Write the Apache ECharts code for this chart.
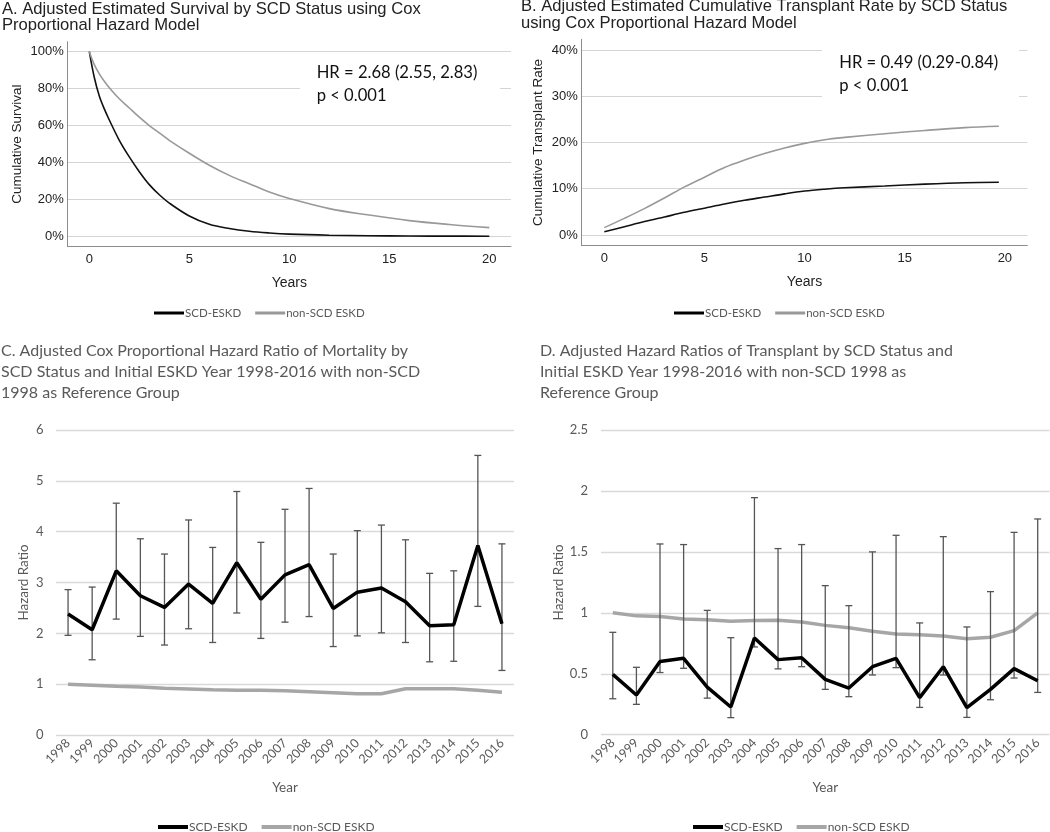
<!DOCTYPE html>
<html><head><meta charset="utf-8">
<script src="https://cdn.jsdelivr.net/npm/echarts@6/dist/echarts.min.js"></script>
<style>html,body{margin:0;padding:0;background:#fff}#c{width:1050px;height:832px}</style>
</head><body><div id="c"></div>
<script>
// ---------- Panel A: adjusted estimated survival (%) ----------
const survTimes = [0, 0.25, 0.5, 0.75, 1, 1.5, 2, 2.5, 3, 3.5, 4, 5, 6, 7, 8, 9, 10, 12, 14, 16, 18, 20];
const survSCD   = [100, 86, 76, 69, 63, 52, 43, 35, 28, 22.5, 18, 11, 6.5, 4.2, 2.7, 1.8, 1.2, 0.6, 0.3, 0.15, 0.1, 0.05];
const survNon   = [100, 93, 88, 84, 80.5, 74.5, 69.5, 64.5, 60, 56, 52, 45, 38.5, 33, 28.5, 24, 20.5, 15, 11.5, 8.5, 6.4, 4.7];

// ---------- Panel B: cumulative transplant rate (%) ----------
const txTimes = [0, 1, 2, 3, 4, 5, 6, 7, 8, 9, 10, 11, 12, 14, 16, 18, 19.7];
const txSCD   = [0.7, 1.8, 2.9, 3.9, 4.9, 5.8, 6.7, 7.5, 8.2, 8.9, 9.5, 9.9, 10.2, 10.6, 11.0, 11.3, 11.4];
const txNon   = [1.6, 3.6, 5.7, 8.0, 10.4, 12.5, 14.6, 16.2, 17.6, 18.8, 19.8, 20.6, 21.1, 21.9, 22.6, 23.2, 23.5];

// ---------- Panels C & D: categories ----------
const years = ['1998','1999','2000','2001','2002','2003','2004','2005','2006','2007','2008','2009','2010','2011','2012','2013','2014','2015','2016'];

// Panel C: mortality hazard ratios
const mortSCD     = [2.38, 2.07, 3.23, 2.74, 2.51, 2.97, 2.59, 3.39, 2.67, 3.15, 3.35, 2.49, 2.81, 2.89, 2.62, 2.15, 2.17, 3.73, 2.19];
const mortSCDLow  = [1.96, 1.48, 2.28, 1.94, 1.77, 2.09, 1.82, 2.40, 1.90, 2.22, 2.33, 1.74, 1.95, 2.01, 1.82, 1.44, 1.45, 2.53, 1.27];
const mortSCDHigh = [2.86, 2.91, 4.56, 3.86, 3.56, 4.23, 3.69, 4.79, 3.79, 4.44, 4.85, 3.56, 4.02, 4.13, 3.84, 3.18, 3.23, 5.50, 3.76];
const mortNon     = [1.00, 0.98, 0.96, 0.945, 0.92, 0.905, 0.89, 0.88, 0.88, 0.87, 0.85, 0.83, 0.81, 0.81, 0.91, 0.91, 0.91, 0.88, 0.84];

// Panel D: transplant hazard ratios
const txhrSCD     = [0.495, 0.326, 0.60, 0.627, 0.39, 0.227, 0.793, 0.616, 0.632, 0.454, 0.383, 0.558, 0.627, 0.304, 0.558, 0.222, 0.372, 0.542, 0.443];
const txhrSCDLow  = [0.295, 0.249, 0.51, 0.545, 0.30, 0.14, 0.72, 0.54, 0.558, 0.372, 0.312, 0.49, 0.55, 0.224, 0.49, 0.142, 0.287, 0.465, 0.347];
const txhrSCDHigh = [0.84, 0.553, 1.565, 1.56, 1.02, 0.796, 1.945, 1.527, 1.56, 1.223, 1.059, 1.50, 1.636, 0.917, 1.625, 0.884, 1.174, 1.66, 1.77];
const txhrNon     = [1.0, 0.975, 0.97, 0.95, 0.944, 0.93, 0.936, 0.94, 0.925, 0.897, 0.878, 0.848, 0.826, 0.82, 0.81, 0.788, 0.80, 0.854, 1.0];

// ---------- chart ----------
const chart = echarts.init(document.getElementById('c'), null, {renderer: 'canvas'});
const ARIAL = 'Liberation Sans, Arial, sans-serif';
const CAL = 'Lato, Calibri, sans-serif';
const GRAYTXT = '#595959';

const pairs = (xs, ys) => xs.map((x, i) => [x, ys[i]]);

function contAxisX(gi, min, max) {
  return {
    type: 'value', gridIndex: gi, min: min, max: max, splitNumber: 5,
    name: 'Years', nameLocation: 'middle', nameGap: 29,
    nameTextStyle: {fontFamily: ARIAL, fontSize: 14, color: '#222'},
    axisLine: {show: true, onZero: false, lineStyle: {color: '#8c8c8c', width: 1}},
    axisTick: {show: false},
    splitLine: {show: false},
    axisLabel: {fontFamily: ARIAL, fontSize: 13, color: '#222', margin: 6,
      showMinLabel: false, showMaxLabel: false,
      formatter: v => (Math.abs(v - Math.round(v)) < 1e-6 && Math.round(v) % 5 === 0) ? String(Math.round(v)) : ''}
  };
}
function contAxisY(gi, min, max, step, name, gap) {
  return {
    type: 'value', gridIndex: gi, min: min, max: max, splitNumber: 5,
    name: name, nameLocation: 'middle', nameGap: gap, nameRotate: 90,
    nameTextStyle: {fontFamily: ARIAL, fontSize: 13.5, color: '#222'},
    axisLine: {show: true, onZero: false, lineStyle: {color: '#8c8c8c', width: 1}},
    axisTick: {show: false},
    splitLine: {show: true, showMinLine: false, showMaxLine: false, lineStyle: {color: '#d4d4d4', width: 1}},
    axisLabel: {fontFamily: ARIAL, fontSize: 13, color: '#222', margin: 4,
      showMinLabel: false, showMaxLabel: false,
      formatter: v => (Math.abs(v - Math.round(v)) < 1e-6 && Math.round(v) >= 0 && Math.round(v) % step === 0) ? Math.round(v) + '%' : ''}
  };
}
function catAxisX(gi) {
  return {
    type: 'category', gridIndex: gi, data: years, boundaryGap: true,
    name: 'Year', nameLocation: 'middle', nameGap: 46,
    nameTextStyle: {fontFamily: CAL, fontSize: 13.5, color: GRAYTXT},
    axisLine: {show: false}, axisTick: {show: false},
    axisLabel: {rotate: 45, fontFamily: CAL, fontSize: 12.5, color: GRAYTXT, margin: 6, interval: 0}
  };
}
function hrAxisY(gi, max, interval, gap, margin) {
  return {
    type: 'value', gridIndex: gi, min: 0, max: max, interval: interval,
    name: 'Hazard Ratio', nameLocation: 'middle', nameGap: gap, nameRotate: 90,
    nameTextStyle: {fontFamily: CAL, fontSize: 13.5, color: GRAYTXT},
    axisLine: {show: false}, axisTick: {show: false},
    splitLine: {show: true, lineStyle: {color: '#d9d9d9', width: 1.3}},
    axisLabel: {fontFamily: CAL, fontSize: 13, color: GRAYTXT, margin: margin}
  };
}
function errorBars(gi, lows, highs) {
  return {
    type: 'custom', name: 'SCD-ESKD 95% CI', xAxisIndex: gi, yAxisIndex: gi, silent: true, z: 2,
    data: lows.map((l, i) => [i, l, highs[i]]),
    encode: {x: 0, y: [1, 2]},
    renderItem: (params, api) => {
      const i = api.value(0);
      const lo = api.coord([i, api.value(1)]);
      const hi = api.coord([i, api.value(2)]);
      const w = 3.5;
      const st = {stroke: '#555', lineWidth: 1.3};
      return {type: 'group', children: [
        {type: 'line', shape: {x1: lo[0], y1: lo[1], x2: hi[0], y2: hi[1]}, style: st},
        {type: 'line', shape: {x1: lo[0] - w, y1: lo[1], x2: lo[0] + w, y2: lo[1]}, style: st},
        {type: 'line', shape: {x1: hi[0] - w, y1: hi[1], x2: hi[0] + w, y2: hi[1]}, style: st}
      ]};
    }
  };
}
function legendAt(left, top, grayColor, h, size, gap) {
  return {
    left: left, top: top, padding: 0, icon: 'rect', itemWidth: 30, itemHeight: h, itemGap: gap,
    selectedMode: false,
    textStyle: {fontFamily: CAL, fontSize: size, color: GRAYTXT, padding: [0, 0, 0, -4]},
    data: [{name: 'SCD-ESKD', itemStyle: {color: '#000'}}, {name: 'non-SCD ESKD', itemStyle: {color: grayColor}}]
  };
}
function curve(name, gi, xs, ys, color) {
  return {type: 'line', name: name, xAxisIndex: gi, yAxisIndex: gi, data: pairs(xs, ys),
    smooth: 0.35, symbol: 'none',
    lineStyle: {color: color, width: 1.6}, itemStyle: {color: color}, z: 3};
}

const option = {
  backgroundColor: '#fff',
  animation: false,
  title: [
    {text: 'A. Adjusted Estimated Survival by SCD Status using Cox\nProportional Hazard Model', left: 2, top: 1.5, padding: 0,
     textStyle: {fontFamily: ARIAL, fontSize: 16.6, fontWeight: 'normal', color: '#222', lineHeight: 16}},
    {text: 'B. Adjusted Estimated Cumulative Transplant Rate by SCD Status\nusing Cox Proportional Hazard Model', left: 521, top: -1.5, padding: 0,
     textStyle: {fontFamily: ARIAL, fontSize: 16.6, fontWeight: 'normal', color: '#222', lineHeight: 16.5}},
    {text: 'C. Adjusted Cox Proportional Hazard Ratio of Mortality by\nSCD Status and Initial ESKD Year 1998-2016 with non-SCD\n1998 as Reference Group', left: 1, top: 340, padding: 0,
     textStyle: {fontFamily: CAL, fontSize: 16, fontWeight: 'normal', color: GRAYTXT, lineHeight: 21}},
    {text: 'D. Adjusted Hazard Ratios of Transplant by SCD Status and\nInitial ESKD Year 1998-2016 with non-SCD 1998 as\nReference Group', left: 540, top: 340, padding: 0,
     textStyle: {fontFamily: CAL, fontSize: 16, fontWeight: 'normal', color: GRAYTXT, lineHeight: 21}}
  ],
  legend: [
    legendAt(154, 307, '#999', 3, 11.5, 14),
    legendAt(674, 307, '#999', 3, 11.5, 14),
    legendAt(158, 821, '#a6a6a6', 4, 12, 14),
    legendAt(693, 821, '#a6a6a6', 4, 12, 14)
  ],
  grid: [
    {left: 67.7, top: 41.7, width: 443.3, height: 205},
    {left: 581.7, top: 39.3, width: 445.6, height: 206.4},
    {left: 56, top: 430, width: 458, height: 305},
    {left: 601, top: 430, width: 448.5, height: 304.7}
  ],
  xAxis: [
    contAxisX(0, -1.08, 21.085),
    contAxisX(1, -1.13, 21.12),
    catAxisX(2),
    catAxisX(3)
  ],
  yAxis: [
    contAxisY(0, -5.63, 105.4, 20, 'Cumulative Survival', 43),
    contAxisY(1, -2.31, 42.3, 10, 'Cumulative Transplant Rate', 36),
    hrAxisY(2, 6, 1, 25, 12.5),
    hrAxisY(3, 2.5, 0.5, 35, 13)
  ],
  graphic: [
    {type: 'rect', z: 50, shape: {x: 300, y: 56, width: 200, height: 50}, style: {fill: '#fff'}},
    {type: 'text', z: 51, style: {x: 316.7, y: 72.3, text: 'HR = 2.68 (2.55, 2.83)', fontFamily: CAL, fontSize: 16.6, fill: '#111', verticalAlign: 'middle'}},
    {type: 'text', z: 51, style: {x: 316.7, y: 95.7, text: 'p < 0.001', fontFamily: CAL, fontSize: 16.6, fill: '#111', verticalAlign: 'middle'}},
    {type: 'rect', z: 50, shape: {x: 822, y: 44, width: 197, height: 56}, style: {fill: '#fff'}},
    {type: 'text', z: 51, style: {x: 839.3, y: 62.7, text: 'HR = 0.49 (0.29-0.84)', fontFamily: CAL, fontSize: 16.6, fill: '#111', verticalAlign: 'middle'}},
    {type: 'text', z: 51, style: {x: 839.3, y: 86, text: 'p < 0.001', fontFamily: CAL, fontSize: 16.6, fill: '#111', verticalAlign: 'middle'}}
  ],
  series: [
    curve('SCD-ESKD', 0, survTimes, survSCD, '#111'),
    curve('non-SCD ESKD', 0, survTimes, survNon, '#999'),
    curve('SCD-ESKD', 1, txTimes, txSCD, '#111'),
    curve('non-SCD ESKD', 1, txTimes, txNon, '#999'),

    {type: 'line', name: 'non-SCD ESKD', xAxisIndex: 2, yAxisIndex: 2, data: mortNon, symbol: 'none', lineStyle: {color: '#a6a6a6', width: 3.5}, itemStyle: {color: '#a6a6a6'}, z: 1},
    errorBars(2, mortSCDLow, mortSCDHigh),
    {type: 'line', name: 'SCD-ESKD', xAxisIndex: 2, yAxisIndex: 2, data: mortSCD, symbol: 'none', lineStyle: {color: '#000', width: 3.5}, itemStyle: {color: '#000'}, z: 3},

    {type: 'line', name: 'non-SCD ESKD', xAxisIndex: 3, yAxisIndex: 3, data: txhrNon, symbol: 'none', lineStyle: {color: '#a6a6a6', width: 3.5}, itemStyle: {color: '#a6a6a6'}, z: 1},
    errorBars(3, txhrSCDLow, txhrSCDHigh),
    {type: 'line', name: 'SCD-ESKD', xAxisIndex: 3, yAxisIndex: 3, data: txhrSCD, symbol: 'none', lineStyle: {color: '#000', width: 3.5}, itemStyle: {color: '#000'}, z: 3}
  ]
};
chart.setOption(option);
</script>
</body></html>
